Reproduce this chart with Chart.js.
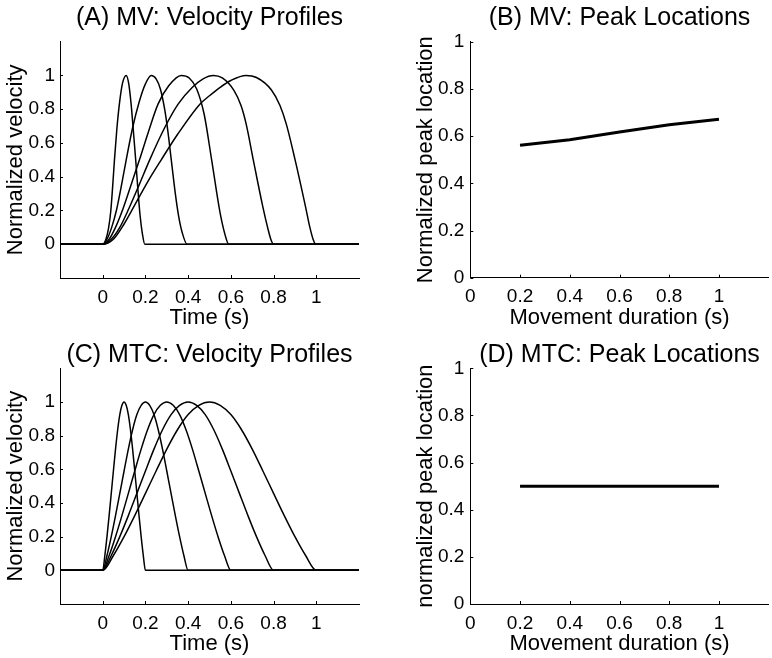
<!DOCTYPE html>
<html>
<head>
<meta charset="utf-8">
<script src="https://cdn.jsdelivr.net/npm/chart.js@4.4.1/dist/chart.umd.min.js"></script>
<style>
  html, body { margin: 0; padding: 0; background: #fff; }
  #wrap { position: relative; width: 772px; height: 658px; }
  canvas { position: absolute; }
</style>
</head>
<body>
<div id="wrap">
  <canvas id="panelA" width="386" height="329" style="left:0;top:0"></canvas>
  <canvas id="panelB" width="386" height="329" style="left:386px;top:0"></canvas>
  <canvas id="panelC" width="386" height="329" style="left:0;top:329px"></canvas>
  <canvas id="panelD" width="386" height="329" style="left:386px;top:329px"></canvas>
</div>
<script>
// ticks
const profileTimeTicks = [0, 0.2, 0.4, 0.6, 0.8, 1];
const profileVelTicks = [0, 0.2, 0.4, 0.6, 0.8, 1];
const peakDurTicks = [0, 0.2, 0.4, 0.6, 0.8, 1];
const peakLocTicks = [0, 0.2, 0.4, 0.6, 0.8, 1];

// peak locations (B, D)
const durations = [0.2, 0.4, 0.6, 0.8, 1.0];
const mvPeakLoc = [0.561, 0.585, 0.617, 0.648, 0.671];
const mtcPeakLoc = [0.5, 0.5, 0.5, 0.5, 0.5];

// MV velocity profiles [time, normalized velocity]
const mvProfile02 = [[-0.2,0],[0,0],[0.015,0.03],[0.028,0.1],[0.038,0.2],[0.047,0.35],[0.055,0.5],[0.066,0.68],[0.078,0.83],[0.092,0.95],[0.11,1],[0.122,0.95],[0.133,0.83],[0.143,0.68],[0.155,0.49],[0.165,0.32],[0.175,0.17],[0.186,0.06],[0.197,0],[1.2,0]];
const mvProfile04 = [[-0.2,0],[0,0],[0.02,0.03],[0.042,0.1],[0.064,0.2],[0.088,0.35],[0.11,0.5],[0.14,0.69],[0.17,0.84],[0.2,0.95],[0.227,1],[0.25,0.98],[0.27,0.92],[0.29,0.8],[0.305,0.67],[0.321,0.5],[0.34,0.3],[0.355,0.17],[0.372,0.07],[0.395,0],[1.2,0]];
const mvProfile06 = [[-0.2,0],[0,0],[0.03,0.03],[0.06,0.1],[0.095,0.21],[0.135,0.36],[0.172,0.5],[0.215,0.67],[0.259,0.83],[0.31,0.94],[0.368,1],[0.405,0.985],[0.44,0.92],[0.475,0.77],[0.51,0.5],[0.549,0.19],[0.572,0.06],[0.59,0],[1.2,0]];
const mvProfile08 = [[-0.2,0],[0,0],[0.04,0.03],[0.08,0.1],[0.122,0.21],[0.17,0.35],[0.22,0.5],[0.29,0.69],[0.353,0.83],[0.42,0.93],[0.47,0.98],[0.518,1],[0.56,0.985],[0.615,0.91],[0.648,0.82],[0.672,0.71],[0.705,0.5],[0.75,0.22],[0.772,0.1],[0.787,0.03],[0.8,0],[1.2,0]];
const mvProfile10 = [[-0.2,0],[0,0],[0.05,0.03],[0.1,0.12],[0.149,0.23],[0.22,0.39],[0.274,0.5],[0.35,0.65],[0.455,0.83],[0.5,0.88],[0.55,0.93],[0.6,0.97],[0.67,1],[0.72,0.988],[0.79,0.914],[0.83,0.822],[0.86,0.71],[0.9,0.504],[0.95,0.22],[0.97,0.1],[0.985,0.03],[0.998,0],[1.2,0]];

// MTC velocity profiles
const mtcProfile02 = [[-0.2,0],[0,0],[0.01,0.088],[0.02,0.2],[0.03,0.325],[0.04,0.457],[0.05,0.59],[0.06,0.72],[0.07,0.835],[0.08,0.925],[0.09,0.98],[0.1,1],[0.11,0.98],[0.12,0.925],[0.13,0.835],[0.14,0.72],[0.15,0.59],[0.16,0.457],[0.17,0.325],[0.18,0.2],[0.19,0.088],[0.2,0],[1.2,0]];
const mtcProfile04 = [[-0.2,0],[0,0],[0.02,0.088],[0.04,0.2],[0.06,0.325],[0.08,0.457],[0.1,0.59],[0.12,0.72],[0.14,0.835],[0.16,0.925],[0.18,0.98],[0.2,1],[0.22,0.98],[0.24,0.925],[0.26,0.835],[0.28,0.72],[0.3,0.59],[0.32,0.457],[0.34,0.325],[0.36,0.2],[0.38,0.088],[0.4,0],[1.2,0]];
const mtcProfile06 = [[-0.2,0],[0,0],[0.03,0.088],[0.06,0.2],[0.09,0.325],[0.12,0.457],[0.15,0.59],[0.18,0.72],[0.21,0.835],[0.24,0.925],[0.27,0.98],[0.3,1],[0.33,0.98],[0.36,0.925],[0.39,0.835],[0.42,0.72],[0.45,0.59],[0.48,0.457],[0.51,0.325],[0.54,0.2],[0.57,0.088],[0.6,0],[1.2,0]];
const mtcProfile08 = [[-0.2,0],[0,0],[0.04,0.088],[0.08,0.2],[0.12,0.325],[0.16,0.457],[0.2,0.59],[0.24,0.72],[0.28,0.835],[0.32,0.925],[0.36,0.98],[0.4,1],[0.44,0.98],[0.48,0.925],[0.52,0.835],[0.56,0.72],[0.6,0.59],[0.64,0.457],[0.68,0.325],[0.72,0.2],[0.76,0.088],[0.8,0],[1.2,0]];
const mtcProfile10 = [[-0.2,0],[0,0],[0.05,0.088],[0.1,0.2],[0.15,0.325],[0.2,0.457],[0.25,0.59],[0.3,0.72],[0.35,0.835],[0.4,0.925],[0.45,0.98],[0.5,1],[0.55,0.98],[0.6,0.925],[0.65,0.835],[0.7,0.72],[0.75,0.59],[0.8,0.457],[0.85,0.325],[0.9,0.2],[0.95,0.088],[1,0],[1.2,0]];

Chart.defaults.font.family = '"Liberation Sans", Arial, Helvetica, sans-serif';
Chart.defaults.color = '#000';

// petits traits de graduation vers l'intérieur (style matlab)
const inwardTicks = {
    id: 'inwardTicks',
    afterDatasetsDraw(chart) {
        const { ctx, chartArea, scales } = chart;
        ctx.save();
        ctx.strokeStyle = '#000';
        ctx.lineWidth = 1;
        scales.x.ticks.forEach(t => {
            const px = Math.round(scales.x.getPixelForValue(t.value)) + 0.5;
            ctx.beginPath();
            ctx.moveTo(px, chartArea.bottom);
            ctx.lineTo(px, chartArea.bottom - 3);
            ctx.stroke();
        });
        scales.y.ticks.forEach(t => {
            const py = Math.round(scales.y.getPixelForValue(t.value)) + 0.5;
            ctx.beginPath();
            ctx.moveTo(chartArea.left, py);
            ctx.lineTo(chartArea.left + 3, py);
            ctx.stroke();
        });
        ctx.restore();
    }
};

function fmt(v) {
    return String(Math.round(v * 10) / 10);
}

function makeChart(canvasId, cfg) {
    const ctx = document.getElementById(canvasId).getContext('2d');
    return new Chart(ctx, {
        type: 'line',
        data: {
            datasets: cfg.series.map(pts => ({
                data: pts.map(p => ({ x: p[0], y: p[1] })),
                xAxisID: 'x',
                yAxisID: 'y',
                borderColor: '#000',
                borderWidth: cfg.lineWidth,
                cubicInterpolationMode: cfg.smooth ? 'monotone' : 'default',
                tension: 0,
                pointRadius: 0,
                fill: false
            }))
        },
        options: {
            responsive: false,
            animation: false,
            events: [],
            layout: { padding: cfg.padding },
            plugins: {
                legend: { display: false },
                tooltip: { enabled: false }
            },
            scales: {
                // axe du haut vide, sert juste à centrer le titre sur la zone du graphe
                top: {
                    type: 'linear',
                    position: 'top',
                    display: true,
                    grid: { display: false, drawTicks: false },
                    border: { display: false },
                    ticks: { display: false },
                    afterFit: s => { s.height = cfg.topHeight; },
                    title: {
                        display: true,
                        text: cfg.title,
                        font: { size: 25, lineHeight: 1 },
                        padding: { top: cfg.titlePadTop, bottom: 0 }
                    }
                },
                x: {
                    type: 'linear',
                    min: cfg.xRange[0],
                    max: cfg.xRange[1],
                    grid: { display: false, drawTicks: false },
                    border: { display: true, color: '#000', width: 1 },
                    ticks: { font: { size: 19 }, padding: 8, autoSkip: false, maxRotation: 0, callback: fmt },
                    afterBuildTicks: s => { s.ticks = cfg.xTicks.map(v => ({ value: v })); },
                    afterFit: s => { s.height = cfg.xHeight; },
                    title: { display: true, text: cfg.xLabel, font: { size: 22 }, padding: { top: 0, bottom: cfg.xTitlePad } }
                },
                y: {
                    type: 'linear',
                    min: cfg.yRange[0],
                    max: cfg.yRange[1],
                    grid: { display: false, drawTicks: false },
                    border: { display: true, color: '#000', width: 1 },
                    ticks: { font: { size: 19 }, padding: cfg.yTickPad, autoSkip: false, callback: fmt },
                    afterBuildTicks: s => { s.ticks = cfg.yTicks.map(v => ({ value: v })); },
                    afterFit: s => { s.width = cfg.yWidth; },
                    title: { display: true, text: cfg.yLabel, font: { size: 22 }, padding: { top: cfg.yTitlePad, bottom: 0 } }
                }
            }
        },
        plugins: [inwardTicks]
    });
}

// (A) MV
makeChart('panelA', {
    title: '(A) MV: Velocity Profiles',
    series: [mvProfile02, mvProfile04, mvProfile06, mvProfile08, mvProfile10],
    smooth: true, lineWidth: 1.5,
    xRange: [-0.2, 1.2], yRange: [-0.2, 1.2],
    xTicks: profileTimeTicks, yTicks: profileVelTicks,
    xLabel: 'Time (s)', yLabel: 'Normalized velocity',
    padding: { left: 0, right: 27, top: 0, bottom: 0 },
    topHeight: 41.7, titlePadTop: 5.8,
    xHeight: 51, xTitlePad: -2,
    yWidth: 60, yTickPad: 5, yTitlePad: 3
});

// (B) MV peaks
makeChart('panelB', {
    title: '(B) MV: Peak Locations',
    series: [durations.map((d, i) => [d, mvPeakLoc[i]])],
    smooth: false, lineWidth: 3,
    xRange: [0, 1.2], yRange: [0, 1],
    xTicks: peakDurTicks, yTicks: peakLocTicks,
    xLabel: 'Movement duration (s)', yLabel: 'Normalized peak location',
    padding: { left: 0, right: 3.3, top: 0, bottom: 0 },
    topHeight: 41.7, titlePadTop: 5.8,
    xHeight: 51.3, xTitlePad: -2,
    yWidth: 84.3, yTickPad: 6, yTitlePad: 26.8
});

// (C) MTC
makeChart('panelC', {
    title: '(C) MTC: Velocity Profiles',
    series: [mtcProfile02, mtcProfile04, mtcProfile06, mtcProfile08, mtcProfile10],
    smooth: true, lineWidth: 1.5,
    xRange: [-0.2, 1.2], yRange: [-0.2, 1.2],
    xTicks: profileTimeTicks, yTicks: profileVelTicks,
    xLabel: 'Time (s)', yLabel: 'Normalized velocity',
    padding: { left: 0, right: 27, top: 0, bottom: 0 },
    topHeight: 39.3, titlePadTop: 13.8,
    xHeight: 54, xTitlePad: 1,
    yWidth: 60, yTickPad: 5, yTitlePad: 3
});

// (D) MTC peaks
makeChart('panelD', {
    title: '(D) MTC: Peak Locations',
    series: [durations.map((d, i) => [d, mtcPeakLoc[i]])],
    smooth: false, lineWidth: 3,
    xRange: [0, 1.2], yRange: [0, 1],
    xTicks: peakDurTicks, yTicks: peakLocTicks,
    xLabel: 'Movement duration (s)', yLabel: 'normalized peak location',
    padding: { left: 0, right: 3.3, top: 0, bottom: 0 },
    topHeight: 39.3, titlePadTop: 13.8,
    xHeight: 54, xTitlePad: 1,
    yWidth: 84.3, yTickPad: 6, yTitlePad: 26.8
});
</script>
</body>
</html>
